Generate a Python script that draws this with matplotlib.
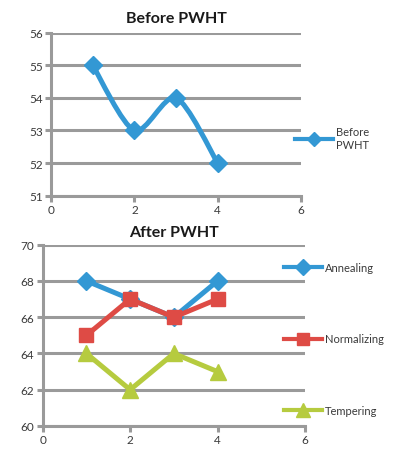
import matplotlib
matplotlib.use("Agg")
import matplotlib.pyplot as plt
from matplotlib.path import Path
from matplotlib.patches import PathPatch
from matplotlib.lines import Line2D

plt.rcParams['font.family'] = ['Lato', 'DejaVu Sans']

# ---- data ----
before_x = [1, 2, 3, 4]
before_y = [55, 53, 54, 52]
before_label = "Before\nPWHT"

after_x = [1, 2, 3, 4]
annealing = [68, 67, 66, 68]
normalizing = [65, 67, 66, 67]
tempering = [64, 62, 64, 63]
after_labels = ["Annealing", "Normalizing", "Tempering"]

top_title = "Before PWHT"
bottom_title = "After PWHT"
x_ticks = [0, 2, 4, 6]
top_yticks = [51, 52, 53, 54, 55, 56]
bottom_yticks = [60, 62, 64, 66, 68, 70]

BLUE = "#3398D4"
RED = "#DE4B45"
GREEN = "#B6CB3F"
GRID = "#9A9A9A"
TXT = "#3a3a3a"
LW = 3.6
FS = 8
TFS = 8.5


def smooth_path(xs, ys, k=7.0):
    pts = list(zip(xs, ys))
    n = len(pts)
    verts = [pts[0]]
    codes = [Path.MOVETO]
    for i in range(n - 1):
        p0 = pts[i - 1] if i > 0 else pts[i]
        p1 = pts[i]
        p2 = pts[i + 1]
        p3 = pts[i + 2] if i + 2 < n else pts[i + 1]
        c1 = (p1[0] + (p2[0] - p0[0]) / k, p1[1] + (p2[1] - p0[1]) / k)
        c2 = (p2[0] - (p3[0] - p1[0]) / k, p2[1] - (p3[1] - p1[1]) / k)
        verts += [c1, c2, p2]
        codes += [Path.CURVE4] * 3
    return Path(verts, codes)


def style_axes(ax, yticks):
    ax.set_xlim(0, 6)
    ax.set_ylim(yticks[0], yticks[-1])
    ax.set_xticks(x_ticks)
    ax.set_yticks(yticks)
    for s in ['top', 'right']:
        ax.spines[s].set_visible(False)
    for s in ['left', 'bottom']:
        ax.spines[s].set_color(GRID)
        ax.spines[s].set_linewidth(2.2)
    ax.grid(axis='y', color=GRID, linewidth=2.2)
    ax.set_axisbelow(True)
    ax.tick_params(axis='both', colors=GRID, width=2.2, length=4,
                   labelcolor=TXT, labelsize=TFS, pad=2)


fig = plt.figure(figsize=(3.96, 4.56), dpi=100)

# ---- top chart ----
ax1 = fig.add_axes([0.129, 0.5687, 0.631, 0.3575])
style_axes(ax1, top_yticks)
ax1.add_patch(PathPatch(smooth_path(before_x, before_y), facecolor='none',
                        edgecolor=BLUE, linewidth=LW, capstyle='round',
                        joinstyle='round'))
ax1.plot(before_x, before_y, linestyle='none', marker='D', markersize=9,
         color=BLUE)
ax1.set_title(top_title, fontsize=11.5, fontweight='bold', color='#1a1a1a',
              pad=8)
h1 = [Line2D([], [], color=BLUE, linewidth=3, marker='D', markersize=7)]
fig.legend(h1, [before_label], loc='center left',
           bbox_to_anchor=(295 / 396, 1 - 139 / 456),
           frameon=False, fontsize=FS, handlelength=3.4, handletextpad=0.25,
           borderpad=0, borderaxespad=0, labelcolor=TXT)

# ---- bottom chart ----
ax2 = fig.add_axes([0.108, 0.0636, 0.662, 0.3976])
style_axes(ax2, bottom_yticks)
series = [(annealing, BLUE, 'D', 9), (normalizing, RED, 's', 10),
          (tempering, GREEN, '^', 11)]
handles = []
for (ys, c, m, ms), lab in zip(series, after_labels):
    ax2.plot(after_x, ys, color=c, linewidth=LW, marker=m, markersize=ms,
             solid_joinstyle='round', solid_capstyle='round', label=lab)
    handles.append(Line2D([], [], color=c, linewidth=3, marker=m,
                          markersize=ms - 1))
ax2.set_title(bottom_title, fontsize=11.5, fontweight='bold', color='#1a1a1a',
              pad=6)
fig.legend(handles, after_labels, loc='center left',
           bbox_to_anchor=(284 / 396, 1 - 340 / 456), frameon=False,
           fontsize=FS, handlelength=3.4, handletextpad=0.25,
           labelspacing=5.45, borderpad=0, borderaxespad=0, labelcolor=TXT)

fig.savefig("out.png", dpi=100)
